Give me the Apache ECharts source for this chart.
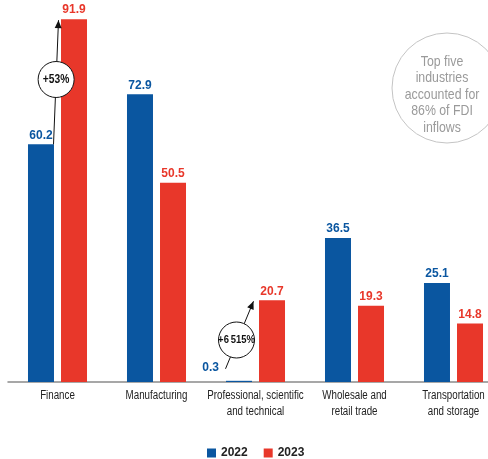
<!DOCTYPE html>
<html><head><meta charset="utf-8">
<script src="https://cdn.jsdelivr.net/npm/echarts@6/dist/echarts.min.js"></script>
<style>html,body{margin:0;padding:0;background:#fff}#c{width:488px;height:459px}</style>
</head><body><div id="c"></div>
<script>
const categories = ['Finance','Manufacturing','Professional, scientific\nand technical','Wholesale and\nretail trade','Transportation\nand storage'];
const seriesNames = ['2022','2023'];
const values2022 = [60.2, 72.9, 0.3, 36.5, 25.1];
const values2023 = [91.9, 50.5, 20.7, 19.3, 14.8];
const growthCats = [0, 2];
const growthTexts = ['+53%', '+6\u2009515%'];
const calloutLines = ['Top five','industries','accounted for','86% of FDI','inflows'];

const BLUE = '#0a56a0', RED = '#e8372a';
const FONT = '"Liberation Sans",Arial,sans-serif';
const chart = echarts.init(document.getElementById('c'));
const lbl = (c) => ({show:true, position:'top', distance:3, color:c, fontWeight:'bold', fontSize:12, fontFamily:FONT});
const data2022 = values2022.map(v => v < 1 ? {value:v, label:{position:'left', distance:7, offset:[0,-14]}} : v);
chart.setOption({
  animation:false,
  grid:{left:8, width:495, top:3, bottom:77, outerBoundsMode:'none', containLabel:false},
  xAxis:{type:'category', data:categories,
    axisLine:{lineStyle:{color:'#8a8a8a', width:1.5}}, axisTick:{show:false},
    axisLabel:{show:false}},
  yAxis:{type:'value', min:0, max:96, show:false, splitLine:{show:false}},
  legend:{top:442, left:202, itemWidth:9, itemHeight:9, icon:'rect', itemGap:16,
    textStyle:{fontWeight:'bold', fontSize:12, color:'#222', fontFamily:FONT}, data:seriesNames},
  series:[
    {name:seriesNames[0], type:'bar', data:data2022, barWidth:26, barGap:'27%', itemStyle:{color:BLUE}, label:lbl(BLUE)},
    {name:seriesNames[1], type:'bar', data:values2023, barWidth:26, barGap:'27%', itemStyle:{color:RED}, label:lbl(RED)}
  ]
});

const g = [];
categories.forEach((c,i)=>{
  const p = chart.convertToPixel({gridIndex:0}, [i, 0]);
  c.split('\n').forEach((line,k)=>{
    g.push({type:'text', x:p[0], y:p[1]+14+k*15.5, scaleX:0.78,
      style:{text:line, fill:'#222', fontSize:12.5, fontFamily:FONT, align:'center', verticalAlign:'middle'}});
  });
});
function arrow(x1,y1,x2,y2){
  g.push({type:'line', shape:{x1,y1,x2,y2}, style:{stroke:'#111', lineWidth:1}, z:10});
  const a = Math.atan2(y2-y1, x2-x1), L=8, W=3.5;
  const bx = x2 - L*Math.cos(a), by = y2 - L*Math.sin(a);
  const px = -Math.sin(a)*W, py = Math.cos(a)*W;
  g.push({type:'polygon', shape:{points:[[x2,y2],[bx+px,by+py],[bx-px,by-py]]}, style:{fill:'#111'}, z:11});
}
function bubble(cx,cy,r,text,sz){
  g.push({type:'circle', shape:{cx,cy,r}, style:{fill:'#fff', stroke:'#111', lineWidth:1}, z:12});
  g.push({type:'text', x:cx, y:cy, scaleX:0.82, style:{text, fill:'#111', fontSize:sz, fontWeight:'bold', fontFamily:FONT, align:'center', verticalAlign:'middle'}, z:13});
}
{
  const i = growthCats[0];
  const p0 = chart.convertToPixel({gridIndex:0}, [i, values2022[i]]);
  const p1 = chart.convertToPixel({gridIndex:0}, [i, values2023[i]]);
  const x1 = p0[0]-4, y1 = p0[1], x2 = p0[0]+1, y2 = p1[1]+1;
  arrow(x1,y1,x2,y2);
  const t = (y1-79.5)/(y1-y2);
  bubble(x1+(x2-x1)*t, 79.5, 18, growthTexts[0], 12.5);
}
{
  const i = growthCats[1];
  const p0 = chart.convertToPixel({gridIndex:0}, [i, values2022[i]]);
  const p1 = chart.convertToPixel({gridIndex:0}, [i, values2023[i]]);
  const x1 = p0[0]-30, y1 = p0[1]-12, x2 = p0[0]-2, y2 = p1[1]+1;
  arrow(x1,y1,x2,y2);
  bubble(p0[0]-19, 340, 18, growthTexts[1], 11.5);
}
g.push({type:'circle', shape:{cx:447, cy:88, r:55}, style:{fill:'none', stroke:'#c4c4c4', lineWidth:1}});
calloutLines.forEach((t,k)=>{
  g.push({type:'text', x:442, y:62+k*16.4, scaleX:0.85, style:{text:t, fill:'#9a9a9a', fontSize:14.5, fontFamily:FONT, align:'center', verticalAlign:'middle'}});
});
chart.setOption({graphic:g});
</script></body></html>
